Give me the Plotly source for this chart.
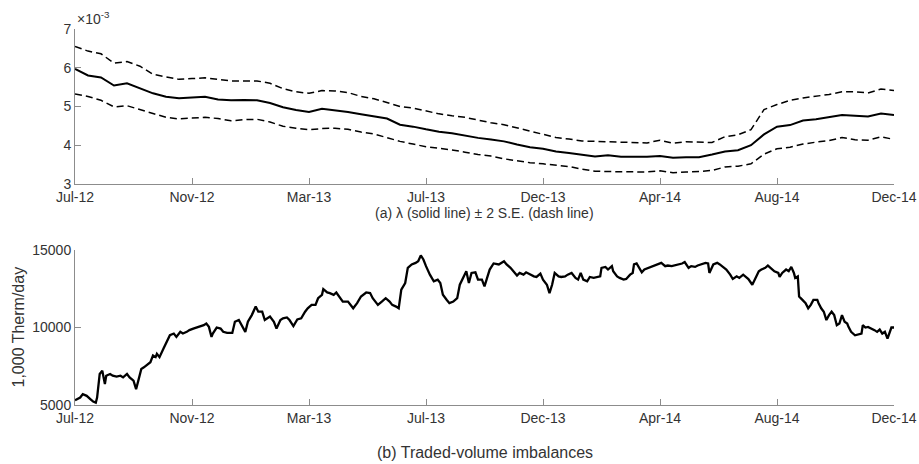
import plotly.graph_objects as go

# ---------------- data ----------------
tick_pos = [0, 90, 180, 270, 360, 450, 540, 630]
tick_labels = ["Jul-12", "Nov-12", "Mar-13", "Jul-13", "Dec-13", "Apr-14", "Aug-14", "Dec-14"]
lam_ticks = [3, 4, 5, 6, 7]
vol_ticks = [5000, 10000, 15000]
vol_tick_labels = ["5000", "10000", "15000"]

# panel (a): lambda (x 1e-3) and +/- 2 S.E. bands, observation index every 10
lam_x = list(range(0, 631, 10))
lam = [5.97, 5.80, 5.75, 5.54, 5.60, 5.47, 5.34, 5.25, 5.21, 5.23,
       5.25, 5.18, 5.16, 5.17, 5.16, 5.09, 4.98, 4.91, 4.86, 4.94,
       4.90, 4.86, 4.80, 4.74, 4.69, 4.53, 4.48, 4.41, 4.35, 4.31,
       4.25, 4.19, 4.15, 4.10, 4.02, 3.95, 3.91, 3.84, 3.80, 3.76,
       3.71, 3.74, 3.70, 3.70, 3.70, 3.72, 3.68, 3.69, 3.69, 3.76,
       3.84, 3.87, 4.00, 4.28, 4.48, 4.52, 4.64, 4.67, 4.73, 4.78,
       4.76, 4.74, 4.82, 4.78]
lam_up = [6.55, 6.43, 6.36, 6.12, 6.16, 6.04, 5.83, 5.76, 5.70, 5.72,
          5.74, 5.70, 5.66, 5.66, 5.66, 5.60, 5.46, 5.38, 5.34, 5.41,
          5.40, 5.36, 5.26, 5.20, 5.10, 5.00, 4.96, 4.88, 4.81, 4.76,
          4.72, 4.65, 4.58, 4.53, 4.45, 4.38, 4.30, 4.20, 4.16, 4.11,
          4.10, 4.09, 4.07, 4.06, 4.06, 4.13, 4.05, 4.09, 4.08, 4.07,
          4.22, 4.27, 4.40, 4.92, 5.05, 5.16, 5.22, 5.27, 5.31, 5.38,
          5.38, 5.35, 5.45, 5.41]
lam_lo = [5.32, 5.26, 5.16, 4.99, 5.02, 4.91, 4.82, 4.72, 4.68, 4.70,
          4.72, 4.69, 4.63, 4.66, 4.67, 4.60, 4.49, 4.44, 4.40, 4.43,
          4.44, 4.41, 4.34, 4.29, 4.20, 4.10, 4.03, 3.96, 3.92, 3.88,
          3.82, 3.76, 3.72, 3.65, 3.60, 3.55, 3.52, 3.49, 3.45, 3.38,
          3.33, 3.32, 3.32, 3.31, 3.31, 3.34, 3.29, 3.31, 3.32, 3.35,
          3.44, 3.46, 3.52, 3.77, 3.91, 3.95, 4.03, 4.08, 4.12, 4.20,
          4.14, 4.13, 4.22, 4.15]

# panel (b): traded-volume imbalances (1,000 Therm/day)
vol_x = [0, 4, 6, 9, 12, 14, 16, 17, 19, 21, 22, 23, 24, 27, 29, 32, 35, 37, 40, 42,
         45, 47, 49, 51, 53, 55, 58, 60, 62, 63, 65, 68, 71, 73, 76, 78, 81, 83, 86, 88,
         91, 94, 96, 99, 101, 103, 105, 106, 109, 112, 114, 117, 121, 123, 126, 128, 131, 133, 136, 139,
         141, 144, 146, 150, 153, 155, 158, 160, 163, 165, 168, 171, 174, 177, 179, 182, 185, 187, 190, 191,
         194, 196, 199, 201, 204, 206, 210, 214, 217, 220, 224, 227, 229, 233, 236, 239, 242, 244, 247, 249,
         251, 254, 256, 259, 262, 264, 266, 268, 270, 273, 276, 279, 281, 283, 286, 288, 291, 294, 296, 299,
         301, 303, 305, 308, 310, 313, 315, 317, 319, 322, 326, 330, 332, 335, 337, 340, 342, 345, 347, 350,
         353, 355, 358, 360, 363, 365, 367, 369, 372, 374, 377, 379, 382, 385, 387, 389, 391, 394, 396, 399,
         401, 404, 405, 408, 410, 413, 414, 417, 419, 422, 424, 427, 429, 430, 432, 434, 436, 438, 441, 444,
         446, 449, 451, 454, 456, 459, 461, 464, 467, 469, 472, 474, 477, 479, 482, 485, 487, 488, 491, 494,
         496, 499, 501, 504, 506, 509, 511, 514, 518, 521, 523, 526, 528, 531, 533, 535, 538, 541, 542, 544,
         547, 549, 551, 553, 554, 556, 557, 559, 562, 564, 566, 568, 571, 572, 574, 576, 578, 580, 582, 584,
         586, 588, 590, 592, 594, 595, 597, 600, 603, 605, 606, 608, 610, 613, 615, 617, 619, 621, 623, 625,
         627, 628, 630]
vol = [5300, 5480, 5700, 5590, 5370, 5220, 5150, 5480, 7000, 7220, 6780, 6350, 6890, 7000, 6890, 6830, 6890, 6780, 7000, 6780,
       6570, 6020, 6670, 7330, 7430, 7540, 7760, 8200, 8090, 8300, 8090, 8630, 9170, 9500, 9610, 9390, 9720, 9610, 9720, 9830,
       9930, 10000, 10090, 10150, 10260, 10040, 9390, 9610, 10000, 9930, 9720, 9650, 9650, 10370, 10480, 10150, 9720, 10370, 10800, 11350,
       11020, 11020, 10480, 10700, 10370, 9930, 10480, 10590, 10650, 10480, 10090, 10520, 10590, 11020, 11240, 11460, 11460, 11890, 12110, 12480,
       12260, 12220, 12110, 12260, 11890, 11670, 11670, 11240, 11570, 12000, 12260, 12220, 11890, 11460, 11670, 11890, 11670, 11460, 11350, 11240,
       12440, 12870, 13850, 14070, 14170, 14280, 14650, 14390, 13960, 13410, 12980, 13090, 12870, 12110, 11780, 11570, 11670, 11890, 12760, 13300,
       13630, 12870, 13520, 13560, 13090, 13090, 12650, 13200, 13740, 14130, 14070, 14280, 14070, 13850, 13630, 13350, 13520, 13410, 13560, 13410,
       13300, 13260, 13480, 13090, 12760, 12220, 12760, 13520, 13300, 13260, 13300, 13410, 13520, 13200, 13090, 13520, 13090, 12980, 13260, 13200,
       13260, 13300, 13850, 13910, 13740, 13960, 13630, 13300, 13200, 13090, 13130, 13410, 13520, 14070, 14130, 13850, 13560, 13740, 13850, 13910,
       14000, 14130, 14170, 13960, 14000, 13960, 14000, 14070, 14130, 14220, 13850, 13960, 13910, 14000, 14070, 14170, 14130, 13520, 14070, 14170,
       14070, 13850, 13740, 13410, 13130, 13300, 13200, 13410, 13130, 12760, 13090, 13630, 13740, 13850, 14000, 13850, 13630, 13520, 13260, 13520,
       13740, 13630, 13910, 13520, 13200, 13300, 12000, 11830, 11570, 11240, 11460, 11780, 11780, 11570, 11240, 11020, 10480, 10800, 11020, 10800,
       10150, 10260, 10800, 10370, 10260, 10040, 9720, 9500, 9570, 9610, 10150, 10000, 10040, 9930, 9830, 9720, 9870, 9610, 9720, 9280,
       9830, 10000, 10000]

# ---------------- figure ----------------
FONT = "Liberation Sans, Arial, Helvetica, sans-serif"
TXT = "#333333"
AX = "#8c8c8c"

fig = go.Figure()
fig.add_trace(go.Scatter(x=lam_x, y=lam_up, mode="lines", xaxis="x", yaxis="y",
                         line=dict(color="black", width=1.5, dash="7px,4px"), showlegend=False))
fig.add_trace(go.Scatter(x=lam_x, y=lam_lo, mode="lines", xaxis="x", yaxis="y",
                         line=dict(color="black", width=1.5, dash="7px,4px"), showlegend=False))
fig.add_trace(go.Scatter(x=lam_x, y=lam, mode="lines", xaxis="x", yaxis="y",
                         line=dict(color="black", width=2), showlegend=False))
fig.add_trace(go.Scatter(x=vol_x, y=vol, mode="lines", xaxis="x2", yaxis="y2",
                         line=dict(color="black", width=2.3), showlegend=False))

common_x = dict(range=[0, 630], tickmode="array", tickvals=tick_pos, ticktext=tick_labels,
                ticks="inside", ticklen=6, tickwidth=1, tickcolor=AX, automargin=False,
                showline=True, linecolor=AX, linewidth=1, showgrid=False, zeroline=False,
                tickfont=dict(family=FONT, size=14, color=TXT), domain=[0, 1])
common_y = dict(ticks="inside", ticklen=6, tickwidth=1, tickcolor=AX, automargin=False,
                showline=True, linecolor=AX, linewidth=1, showgrid=False, zeroline=False,
                tickfont=dict(family=FONT, size=14, color=TXT))

fig.update_layout(
    width=919, height=464,
    margin=dict(l=75, r=25, t=29, b=59),
    paper_bgcolor="white", plot_bgcolor="white",
    font=dict(family=FONT, size=14, color=TXT),
    hovermode=False,
    xaxis=dict(anchor="y", **common_x),
    yaxis=dict(anchor="x", range=[3, 7], tickmode="array", tickvals=lam_ticks,
               domain=[0.5878, 1], **common_y),
    xaxis2=dict(anchor="y2", **common_x),
    yaxis2=dict(anchor="x2", range=[5000, 15000], tickmode="array", tickvals=vol_ticks,
                ticktext=vol_tick_labels, domain=[0, 0.4122], **common_y),
    annotations=[
        dict(text="×10<sup>-3</sup>", xref="paper", yref="paper", x=0.0, y=1.0,
             xanchor="left", yanchor="bottom", showarrow=False, font=dict(family=FONT, size=14, color=TXT)),
        dict(text="(a) λ (solid line) ± 2 S.E. (dash line)", xref="paper", yref="paper", x=0.5, y=0.5106,
             xanchor="center", yanchor="middle", showarrow=False, font=dict(family=FONT, size=14, color=TXT)),
        dict(text="(b) Traded-volume imbalances", xref="paper", yref="paper", x=0.5, y=-0.125,
             xanchor="center", yanchor="middle", showarrow=False, font=dict(family=FONT, size=16, color=TXT)),
        dict(text="1,000 Therm/day", xref="paper", yref="paper", x=-0.069, y=0.2074, textangle=-90,
             xanchor="center", yanchor="middle", showarrow=False, font=dict(family=FONT, size=16, color=TXT)),
    ],
)

fig.write_html("out.html", config={"displayModeBar": False},
               post_script="document.body.style.margin='0px';document.body.style.overflow='hidden';")
